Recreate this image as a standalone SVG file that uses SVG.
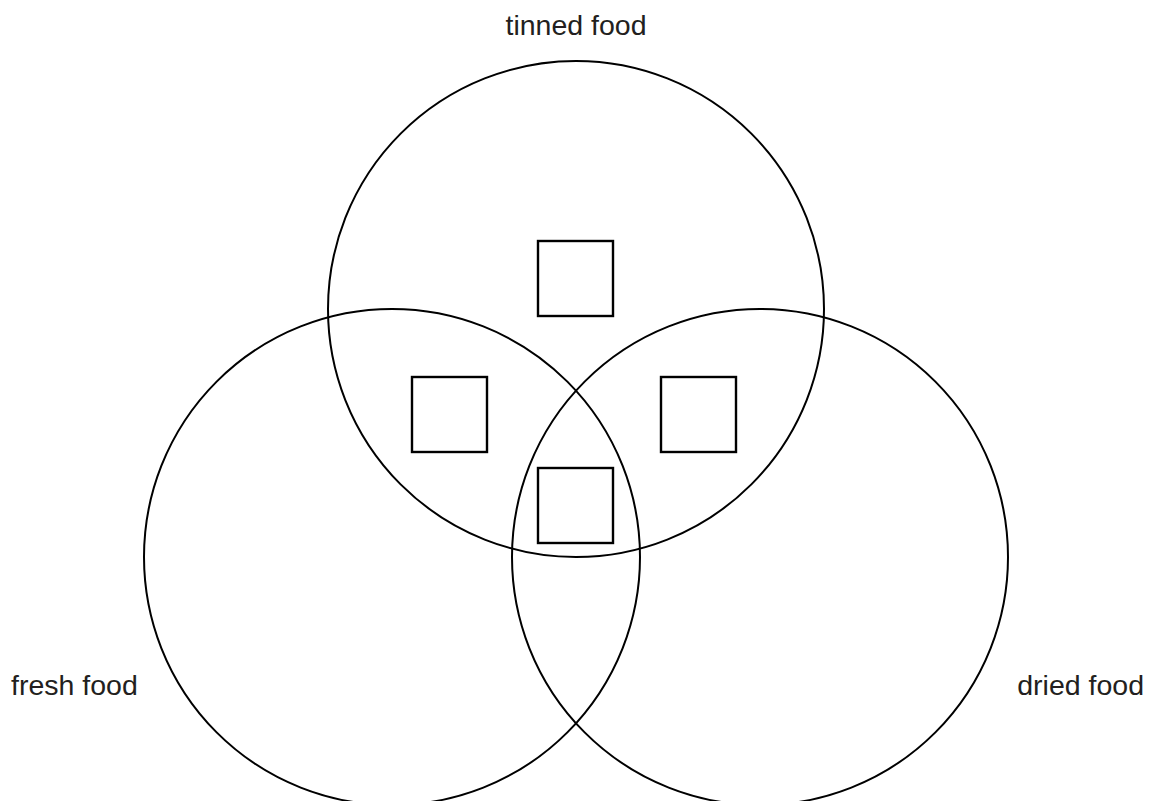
<svg xmlns="http://www.w3.org/2000/svg" width="1153" height="801" viewBox="0 0 1153 801">
  <style>
    .set { fill: none; stroke: #000; stroke-width: 2; }
    .box { fill: #fff; stroke: #000; stroke-width: 2.4; }
    .label { font-family: "Liberation Sans", Arial, sans-serif; font-size: 28.5px; fill: #231f20; }
  </style>
  <rect width="1153" height="801" fill="#fff"/>

  <!-- three overlapping sets -->
  <g id="set-tinned">
    <circle class="set" cx="576" cy="309" r="248"/>
    <text class="label" x="576" y="35" text-anchor="middle">tinned food</text>
  </g>
  <g id="set-fresh">
    <circle class="set" cx="392" cy="557" r="248"/>
    <text class="label" x="11" y="695">fresh food</text>
  </g>
  <g id="set-dried">
    <circle class="set" cx="760" cy="557" r="248"/>
    <text class="label" x="1144" y="695" text-anchor="end">dried food</text>
  </g>

  <!-- answer boxes in each region -->
  <g id="box-tinned"><rect class="box" x="538" y="241" width="75" height="75"/></g>
  <g id="box-tinned-fresh"><rect class="box" x="412" y="377" width="75" height="75"/></g>
  <g id="box-tinned-dried"><rect class="box" x="661" y="377" width="75" height="75"/></g>
  <g id="box-all"><rect class="box" x="538" y="468" width="75" height="75"/></g>
</svg>
